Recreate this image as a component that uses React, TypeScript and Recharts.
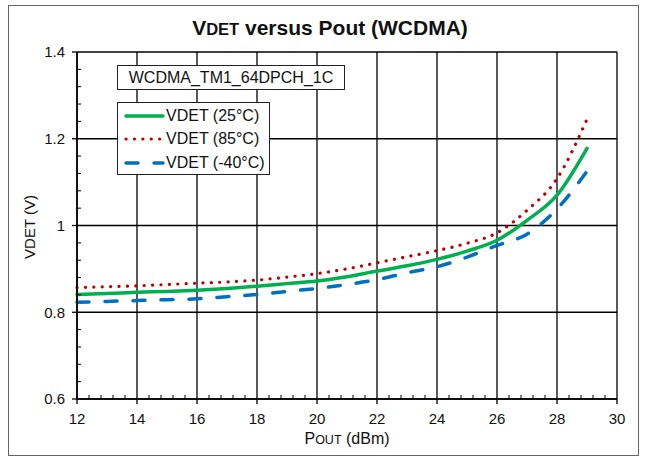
import React from 'react';
import { LineChart, Line, XAxis, YAxis, ReferenceLine, Legend } from 'recharts';

// output power (dBm)
const pout = [12, 13, 14, 15, 16, 17, 18, 19, 20, 21, 22, 23, 24, 25, 26, 27, 28, 29];

// detector voltage (V) per temperature
const vdet25 = [0.841, 0.843, 0.846, 0.848, 0.851, 0.855, 0.86, 0.866, 0.872, 0.882, 0.895, 0.907, 0.922, 0.941, 0.966, 1.012, 1.07, 1.178];
const vdet85 = [0.857, 0.859, 0.861, 0.864, 0.867, 0.87, 0.874, 0.881, 0.889, 0.9, 0.914, 0.928, 0.942, 0.959, 0.983, 1.035, 1.108, 1.245];
const vdetM40 = [0.823, 0.825, 0.827, 0.829, 0.831, 0.836, 0.841, 0.848, 0.855, 0.864, 0.875, 0.891, 0.905, 0.927, 0.954, 0.98, 1.038, 1.125];

const seriesNames = ['VDET (25°C)', 'VDET (85°C)', 'VDET (-40°C)'];

const xTicks = [12, 14, 16, 18, 20, 22, 24, 26, 28, 30];
const yTicks = [0.6, 0.8, 1, 1.2, 1.4];
const yTickLabels = ['0.6', '0.8', '1', '1.2', '1.4'];

// 4 minor ticks between each pair of major ticks
const minorOf = (ticks: number[]) =>
  ticks.slice(1).flatMap((t, i) => {
    const a = ticks[i];
    return [1, 2, 3, 4].map((k) => +(a + ((t - a) * k) / 5).toFixed(4));
  });
const xAllTicks = [...xTicks, ...minorOf(xTicks)].sort((a, b) => a - b);
const yAllTicks = [...yTicks, ...minorOf(yTicks)].sort((a, b) => a - b);

const data = pout.map((p, i) => ({
  pout: p,
  t25: vdet25[i],
  t85: vdet85[i],
  tm40: vdetM40[i],
}));

const font = '"Liberation Sans", Arial, sans-serif';

// x tick: major = outward tick + label, minor = short inward tick
const XTick = (props: any) => {
  const { x, y, payload } = props;
  const v = payload.value;
  const major = xTicks.includes(v);
  if (!major) return <line x1={x} x2={x} y1={y} y2={y - 4} stroke="#000" strokeWidth={1} />;
  return (
    <g>
      <line x1={x} x2={x} y1={y} y2={y + 5} stroke="#000" strokeWidth={1.3} />
      <text x={x} y={y + 14} dy="0.71em" textAnchor="middle" fill="#111" fontSize={15} fontFamily={font}>
        {v}
      </text>
    </g>
  );
};

const YTick = (props: any) => {
  const { x, y, payload } = props;
  const v = payload.value;
  const idx = yTicks.indexOf(v);
  if (idx < 0) return <line x1={x} x2={x + 4} y1={y} y2={y} stroke="#000" strokeWidth={1} />;
  return (
    <g>
      <line x1={x - 5} x2={x} y1={y} y2={y} stroke="#000" strokeWidth={1.3} />
      <text x={x - 12} y={y} dy="0.355em" textAnchor="end" fill="#111" fontSize={15} fontFamily={font}>
        {yTickLabels[idx]}
      </text>
    </g>
  );
};

const renderLegend = (props: any) => {
  const payload = (props.payload || [])
    .filter((e: any) => seriesNames.includes(e.value))
    .sort((a: any, b: any) => seriesNames.indexOf(a.value) - seriesNames.indexOf(b.value));
  return (
    <div
      style={{
        border: '1px solid #222',
        background: '#fff',
        width: 151,
        height: 70,
        boxSizing: 'content-box',
        paddingTop: 1,
      }}
    >
      {payload.map((entry: any) => {
        const p = entry.payload || {};
        return (
          <div key={entry.value} style={{ display: 'flex', alignItems: 'center', height: 23.5 }}>
            <svg width={46} height={12} style={{ marginLeft: 3 }}>
              <line
                x1={5}
                y1={6}
                x2={42}
                y2={6}
                stroke={entry.color}
                strokeWidth={p.strokeWidth}
                strokeDasharray={p.strokeDasharray}
                strokeLinecap={p.strokeLinecap}
              />
            </svg>
            <span style={{ fontFamily: font, fontSize: 16, color: '#111', marginLeft: -1 }}>{entry.value}</span>
          </div>
        );
      })}
    </div>
  );
};

export default function App() {
  return (
    <div style={{ position: 'absolute', left: 0, top: 0, width: 645, height: 463, background: '#fff' }}>
      <div
        style={{
          position: 'absolute',
          left: 8,
          top: 5,
          width: 629,
          height: 449,
          border: '1px solid #666',
        }}
      />
      <div
        style={{
          position: 'absolute',
          left: 0,
          top: 16,
          width: 660,
          textAlign: 'center',
          fontFamily: font,
          fontWeight: 'bold',
          fontSize: 21,
          color: '#111',
        }}
      >
        V<span style={{ fontSize: 16.5 }}>DET</span> versus Pout (WCDMA)
      </div>

      <div style={{ position: 'absolute', left: 0, top: 0 }}>
        <LineChart width={645} height={463} data={data} margin={{ top: 52, right: 28, bottom: 34, left: 0 }}>
          <XAxis
            dataKey="pout"
            type="number"
            domain={[12, 30]}
            ticks={xAllTicks}
            interval={0}
            height={30}
            tickSize={0}
            tickMargin={0}
            tickLine={false}
            axisLine={{ stroke: '#000', strokeWidth: 1.6 }}
            tick={<XTick />}
          />
          <YAxis
            type="number"
            domain={[0.6, 1.4]}
            ticks={yAllTicks}
            interval={0}
            width={77}
            tickSize={0}
            tickMargin={0}
            tickLine={false}
            axisLine={{ stroke: '#000', strokeWidth: 1.6 }}
            tick={<YTick />}
          />
          {xTicks.map((t) => (
            <ReferenceLine key={`gx${t}`} x={t} stroke="#000" strokeWidth={1.3} />
          ))}
          {yTicks.map((t) => (
            <ReferenceLine key={`gy${t}`} y={t} stroke="#000" strokeWidth={1.3} />
          ))}
          <Legend
            layout="vertical"
            align="center"
            verticalAlign="middle"
            content={renderLegend}
            wrapperStyle={{ left: 117, top: 102, width: 153, height: 72 }}
          />
          <Line
            name={seriesNames[0]}
            dataKey="t25"
            type="monotone"
            stroke="#00B050"
            strokeWidth={3.5}
            strokeLinecap="round"
            dot={false}
            isAnimationActive={false}
          />
          <Line
            name={seriesNames[1]}
            dataKey="t85"
            type="monotone"
            stroke="#C00000"
            strokeWidth={3.2}
            strokeDasharray="0.1 8.3"
            strokeLinecap="round"
            dot={false}
            isAnimationActive={false}
          />
          <Line
            name={seriesNames[2]}
            dataKey="tm40"
            type="monotone"
            stroke="#0070C0"
            strokeWidth={3.5}
            strokeDasharray="12 16"
            strokeLinecap="round"
            dot={false}
            isAnimationActive={false}
          />
        </LineChart>
      </div>

      <div
        style={{
          position: 'absolute',
          left: 117,
          top: 65,
          width: 226,
          height: 23,
          border: '1px solid #222',
          background: '#fff',
          fontFamily: font,
          fontSize: 16,
          lineHeight: '23px',
          textAlign: 'center',
          color: '#111',
        }}
      >
        WCDMA_TM1_64DPCH_1C
      </div>

      <div
        style={{
          position: 'absolute',
          left: -20,
          top: 218,
          width: 100,
          height: 18,
          lineHeight: '18px',
          textAlign: 'center',
          transform: 'rotate(-90deg)',
          fontFamily: font,
          fontSize: 15,
          color: '#111',
        }}
      >
        VDET (V)
      </div>

      <div
        style={{
          position: 'absolute',
          left: 247,
          top: 431,
          width: 200,
          lineHeight: '16px',
          textAlign: 'center',
          fontFamily: font,
          fontSize: 16,
          color: '#111',
        }}
      >
        P<span style={{ fontSize: 12.5 }}>OUT</span> (dBm)
      </div>
    </div>
  );
}
